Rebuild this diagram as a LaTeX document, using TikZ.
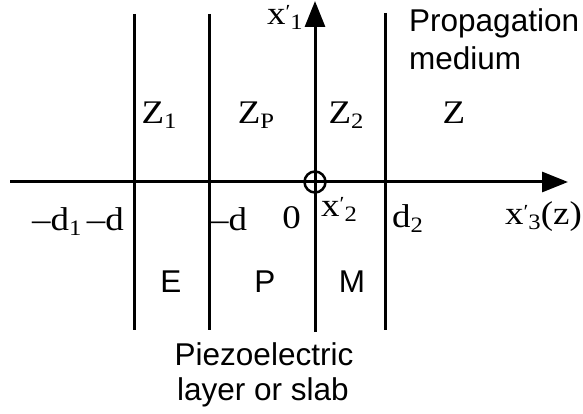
\documentclass[tikz,border=0pt]{standalone}
\usepackage{fontspec}
\setmainfont{Liberation Serif}
\setsansfont{Liberation Sans}
\newfontfamily\serf[FakeStretch=1.12]{Liberation Serif}
\usetikzlibrary{arrows.meta}
\newcommand\lsub[1]{\raisebox{-5pt}{\fontsize{22}{22}\selectfont #1}}
\newcommand\lpr{\raisebox{6pt}{\fontsize{20}{20}\selectfont ′}}
\tikzset{
  rule/.style={line width=3pt},
  axis/.style={line width=3pt,-{Triangle[width=20pt,length=26pt]}},
  ser/.style={inner sep=0pt,font=\serf\fontsize{33}{33}\selectfont},
  san/.style={inner sep=0pt,font=\sffamily\fontsize{31.5}{31.5}\selectfont},
}
\begin{document}
\begin{tikzpicture}[x=1pt,y=-1pt]
\useasboundingbox (0,0) rectangle (583,414);
% vertical boundaries
\coordinate (l1t) at (134,14); \coordinate (l1b) at (134,330);
\coordinate (l2t) at (209,14); \coordinate (l2b) at (209,330);
\coordinate (l4t) at (385,13); \coordinate (l4b) at (385,330);
\coordinate (vb) at (315,332); \coordinate (vt) at (315,1);
\coordinate (hl) at (10,182); \coordinate (hr) at (568,182);
\coordinate (o) at (315,182);
\draw[rule] (l1t) -- (l1b);
\draw[rule] (l2t) -- (l2b);
\draw[rule] (l4t) -- (l4b);
\draw[axis] (vb) -- (vt);
\draw[axis] (hl) -- (hr);
\draw[line width=2.5pt] (o) circle[radius=10.5pt];
% labels
\node[ser,anchor=base] (z1) at (159,124) {Z\lsub{1}};
\node[ser,anchor=base] (zp) at (256,124) {Z\lsub{P}};
\node[ser,anchor=base] (z2) at (346,124) {Z\lsub{2}};
\node[ser,anchor=base] (z) at (454,124) {Z};
\node[ser,anchor=base east] (x1) at (303,25) {x\lpr\lsub{1}};
\node[ser,anchor=base east] (md1) at (124,230) {–d\lsub{1}\,–d};
\node[ser,anchor=base west] (md) at (210,230) {–d};
\node[ser,anchor=base east] (zero) at (301,228) {0};
\node[ser,anchor=base west] (x2) at (321,216) {x\lpr\lsub{2}};
\node[ser,anchor=base west] (d2) at (392,227) {d\lsub{2}};
\node[ser,anchor=base east] (x3) at (582,224) {x\lpr\lsub{3}(z)};
\node[san,anchor=base west] (prop) at (409,32) {Propagation};
\node[san,anchor=base west] (med) at (409,70) {medium};
\node[san,anchor=base] (e) at (171,292) {E};
\node[san,anchor=base] (p) at (265,292) {P};
\node[san,anchor=base] (m) at (352,292) {M};
\node[san,anchor=base] (piezo) at (264,365) {Piezoelectric};
\node[san,anchor=base] (slab) at (263,400) {layer or slab};
\end{tikzpicture}
\end{document}
